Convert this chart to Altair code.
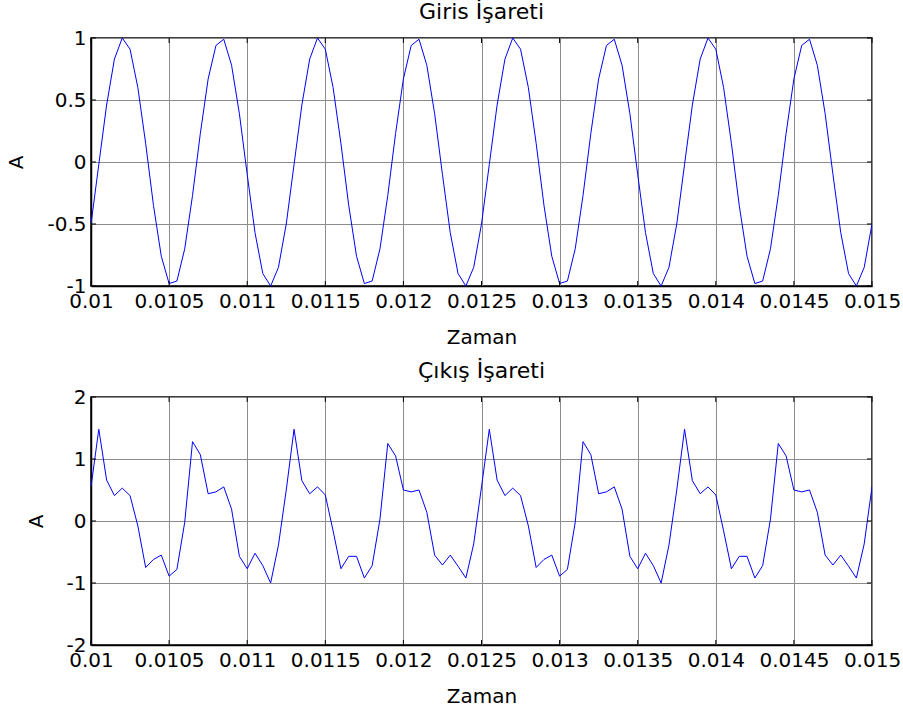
import altair as alt
import pandas as pd

# Sample times (s), 20 kHz sampling between 0.01 s and 0.015 s
zaman = [
    0.01000, 0.01005, 0.01010, 0.01015, 0.01020, 0.01025, 0.01030, 0.01035, 0.01040, 0.01045,
    0.01050, 0.01055, 0.01060, 0.01065, 0.01070, 0.01075, 0.01080, 0.01085, 0.01090, 0.01095,
    0.01100, 0.01105, 0.01110, 0.01115, 0.01120, 0.01125, 0.01130, 0.01135, 0.01140, 0.01145,
    0.01150, 0.01155, 0.01160, 0.01165, 0.01170, 0.01175, 0.01180, 0.01185, 0.01190, 0.01195,
    0.01200, 0.01205, 0.01210, 0.01215, 0.01220, 0.01225, 0.01230, 0.01235, 0.01240, 0.01245,
    0.01250, 0.01255, 0.01260, 0.01265, 0.01270, 0.01275, 0.01280, 0.01285, 0.01290, 0.01295,
    0.01300, 0.01305, 0.01310, 0.01315, 0.01320, 0.01325, 0.01330, 0.01335, 0.01340, 0.01345,
    0.01350, 0.01355, 0.01360, 0.01365, 0.01370, 0.01375, 0.01380, 0.01385, 0.01390, 0.01395,
    0.01400, 0.01405, 0.01410, 0.01415, 0.01420, 0.01425, 0.01430, 0.01435, 0.01440, 0.01445,
    0.01450, 0.01455, 0.01460, 0.01465, 0.01470, 0.01475, 0.01480, 0.01485, 0.01490, 0.01495,
    0.01500,
]

# Input signal samples
giris = [
    -0.50, -0.02, 0.46, 0.83, 1.00, 0.91, 0.60, 0.15, -0.35, -0.76,
    -0.98, -0.96, -0.70, -0.27, 0.23, 0.67, 0.94, 0.99, 0.78, 0.39,
    -0.10, -0.57, -0.90, -1.00, -0.85,
    -0.50, -0.02, 0.46, 0.83, 1.00, 0.91, 0.60, 0.15, -0.35, -0.76,
    -0.98, -0.96, -0.70, -0.27, 0.23, 0.67, 0.94, 0.99, 0.78, 0.39,
    -0.10, -0.57, -0.90, -1.00, -0.85,
    -0.50, -0.02, 0.46, 0.83, 1.00, 0.91, 0.60, 0.15, -0.35, -0.76,
    -0.98, -0.96, -0.70, -0.27, 0.23, 0.67, 0.94, 0.99, 0.78, 0.39,
    -0.10, -0.57, -0.90, -1.00, -0.85,
    -0.50, -0.02, 0.46, 0.83, 1.00, 0.91, 0.60, 0.15, -0.35, -0.76,
    -0.98, -0.96, -0.70, -0.27, 0.23, 0.67, 0.94, 0.99, 0.78, 0.39,
    -0.10, -0.57, -0.90, -1.00, -0.85,
    -0.50,
]

# Output signal samples
cikis = [
    0.55, 1.48, 0.66, 0.41, 0.53, 0.41, -0.08, -0.75, -0.62, -0.55,
    -0.89, -0.78, -0.02, 1.28, 1.07, 0.44, 0.47, 0.55, 0.19, -0.57,
    -0.77, -0.52, -0.72, -1.00, -0.39,
    0.50, 1.48, 0.65, 0.44, 0.55, 0.42, -0.16, -0.77, -0.57, -0.57,
    -0.92, -0.72, 0.03, 1.25, 1.05, 0.50, 0.47, 0.50, 0.14, -0.55,
    -0.71, -0.55, -0.73, -0.92, -0.37,
    0.55, 1.48, 0.66, 0.41, 0.53, 0.41, -0.08, -0.75, -0.62, -0.55,
    -0.89, -0.78, -0.02, 1.28, 1.07, 0.44, 0.47, 0.55, 0.19, -0.57,
    -0.77, -0.52, -0.72, -1.00, -0.39,
    0.50, 1.48, 0.65, 0.44, 0.55, 0.42, -0.16, -0.77, -0.57, -0.57,
    -0.92, -0.72, 0.03, 1.25, 1.05, 0.50, 0.47, 0.50, 0.14, -0.55,
    -0.71, -0.55, -0.73, -0.92, -0.37,
    0.55,
]

x_ticks = [0.01, 0.0105, 0.011, 0.0115, 0.012, 0.0125, 0.013, 0.0135, 0.014, 0.0145, 0.015]
y_ticks_giris = [-1, -0.5, 0, 0.5, 1]
y_ticks_cikis = [-2, -1, 0, 1, 2]

W, H = 781, 248
TICK = 5
FONT = "DejaVu Sans"
LABEL_FS = 20
AXIS_TITLE_FS = 20
TITLE_FS = 22
TITLE_OFFSET = 4


def panel(values, y_ticks, y_domain, title):
    df = pd.DataFrame({"Zaman": zaman, "A": values})
    x_axis = alt.Axis(
        values=x_ticks, labelExpr="datum.value + ''", title="Zaman",
        labelOverlap=False, labelFlush=False, ticks=False,
        labelPadding=5, titlePadding=16,
    )
    y_axis = alt.Axis(
        values=y_ticks, labelExpr="datum.value + ''", title="A",
        labelOverlap=False, labelFlush=False, ticks=False,
        labelPadding=5, titlePadding=20,
    )
    x_scale = alt.Scale(domain=[0.01, 0.015], nice=False, zero=False)
    y_scale = alt.Scale(domain=y_domain, nice=False, zero=False)

    line = alt.Chart(df).mark_line(color="#0000FF", strokeWidth=1, clip=True).encode(
        x=alt.X("Zaman:Q", scale=x_scale, axis=x_axis),
        y=alt.Y("A:Q", scale=y_scale, axis=y_axis),
    )

    # short inward tick marks on all four sides of the box
    xt = pd.DataFrame({"Zaman": x_ticks})
    yt = pd.DataFrame({"A": y_ticks})
    xs = alt.X("Zaman:Q", scale=x_scale, axis=x_axis)
    ys = alt.Y("A:Q", scale=y_scale, axis=y_axis)
    tick_bottom = alt.Chart(xt).mark_rule(color="black").encode(x=xs, y=alt.value(H), y2=alt.value(H - TICK))
    tick_top = alt.Chart(xt).mark_rule(color="black").encode(x=xs, y=alt.value(0), y2=alt.value(TICK))
    tick_left = alt.Chart(yt).mark_rule(color="black").encode(y=ys, x=alt.value(0), x2=alt.value(TICK))
    tick_right = alt.Chart(yt).mark_rule(color="black").encode(y=ys, x=alt.value(W - TICK), x2=alt.value(W))

    return alt.layer(line, tick_bottom, tick_top, tick_left, tick_right).properties(
        width=W, height=H,
        title=alt.Title(title, fontSize=TITLE_FS, font=FONT, fontWeight="normal", color="black", offset=TITLE_OFFSET),
    )


top = panel(giris, y_ticks_giris, [-1, 1], "Giris İşareti")
bottom = panel(cikis, y_ticks_cikis, [-2, 2], "Çıkış İşareti")

title_style = {"font": FONT, "fontSize": TITLE_FS, "fontWeight": "normal", "color": "black"}

chart = (
    alt.vconcat(top, bottom, spacing=111, bounds="flush")
    .properties(padding={"left": 6, "top": 0, "right": 0, "bottom": 0}, background="white")
    .configure(style={"group-title": title_style})
    .configure_view(stroke="black", strokeWidth=1.5)
    .configure_title(font=FONT, fontSize=TITLE_FS, fontWeight="normal", color="black", offset=TITLE_OFFSET)
    .configure_axis(
        labelFont=FONT, titleFont=FONT, labelFontSize=LABEL_FS, titleFontSize=AXIS_TITLE_FS,
        labelColor="black", titleColor="black", titleFontWeight="normal",
        domainColor="black", domainWidth=1.5,
        gridColor="#8c8c8c", gridWidth=1, gridOpacity=1,
    )
)

chart.save("out.html", embed_options={"renderer": "svg", "actions": False})
